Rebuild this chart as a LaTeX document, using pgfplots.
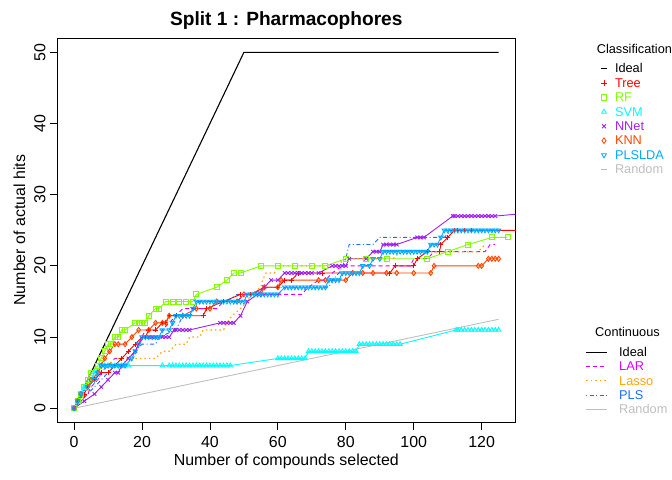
\documentclass[border=0pt]{standalone}
\usepackage{fontspec}
\setmainfont{Liberation Sans}
\usepackage{pgfplots}
\pgfplotsset{compat=1.18}

\definecolor{rf}{HTML}{7FFF00}
\definecolor{svm}{HTML}{00FFFF}
\definecolor{nnet}{HTML}{A020F0}
\definecolor{knn}{HTML}{FF4500}
\definecolor{plslda}{HTML}{00AAFF}
\definecolor{lar}{HTML}{DD00FF}
\definecolor{lasso}{HTML}{FFA500}
\definecolor{pls}{HTML}{1E6BFF}
\definecolor{rnd}{HTML}{BEBEBE}

% legend symbols
\newcommand{\clsimg}[3]{\addlegendimage{legend image code/.code={%
  \path[draw=none, fill=none] (0bp,1bp) rectangle (10bp,7bp);
  \draw[#1, line width=0.8bp, mark=#2, mark size=2.8bp, mark options={solid,#3}] plot coordinates {(5bp,4.2bp)};}}}
\newcommand{\conimg}[1]{\addlegendimage{legend image code/.code={%
  \draw[#1, line width=0.9bp] (0bp,4.2bp) -- (21bp,4.2bp);}}}

\tikzset{legfont/.style={font=\fontsize{12.8}{14}\selectfont}}

\pgfplotsset{
  base/.style={
    at={(57.1bp,57.5bp)}, anchor=south west,
    width=458.5bp, height=384.4bp, scale only axis,
    xmin=-5, xmax=130, ymin=-2, ymax=52,
  },
  cls/.style={line width=0.9bp, mark size=2.5bp, mark options={solid}, forget plot},
}

\begin{document}
\begin{tikzpicture}
\useasboundingbox (0,0) rectangle (672bp,480bp);
\begin{axis}[base,
  xtick={0,20,...,120}, ytick={0,10,...,50},
  tick pos=left, tick align=outside, major tick length=7bp,
  tick style={black, line width=0.8bp},
  axis line style={line width=0.8bp},
  /pgf/number format/assume math mode=true,
  ticklabel style={font=\fontsize{16}{19}\selectfont},
  xticklabel style={yshift=-3.5bp},
  yticklabel style={rotate=90, anchor=south, yshift=1bp},
  xlabel={Number of compounds selected},
  ylabel={Number of actual hits},
  every axis x label/.style={at={(axis description cs:0.5,-0.102)}, anchor=center, font=\fontsize{16}{19}\selectfont},
  every axis y label/.style={at={(axis description cs:-0.0822,0.5)}, rotate=90, anchor=center, font=\fontsize{16}{19}\selectfont},
  legend style={at={(1.1819,0.9342)}, anchor=north west, draw=none, fill=none,
    inner sep=0pt, outer sep=0pt, row sep=0pt, column sep=6bp,
    nodes={inner sep=0pt, text height=9.5bp, text depth=4.9bp},
    cells={anchor=base west}, legfont},
]
% Ideal and random
\addplot[black, line width=1.1bp, forget plot] coordinates {(0,0) (50,50) (125,50)};
\addplot[rnd, line width=0.9bp, forget plot] coordinates {(0,0) (125,12.5)};

% Tree
\addplot[red, cls, mark=+] coordinates {
(0,0) (1,1) (3,2) (4,3) (6,4) (8,5) (10,5) (12,6) (14,7) (16,8) (18,9) (20,10) (21,10)
(22,11) (24,11) (26,12) (27,12) (28,13) (30,13) (38,13) (39,14) (44,15) (49,16) (52,16)
(56,17) (60,17) (62,18) (64,18) (66,19) (73,19) (93,19) (94.5,20) (100,20) (101,21)
(104,22) (107.6,22) (108,23) (110,24) (112,25) (113,25) (115,25) (117,25) (131,25)};
% RF
\addplot[rf, cls, mark=square] coordinates {
(0,0) (1,1) (2,2) (3,3) (4,4) (5,5) (7,6) (8,7) (9,8) (10,9) (11,9) (12,10) (13,10)
(14,11) (15,11) (18,12) (19,12) (20,12) (21,12) (22,13) (24,14) (25,14) (27,15) (29,15)
(31,15) (33,15) (35,15) (36,16) (42,17) (45,18) (47,19) (49,19) (55,20) (60,20) (65,20)
(70,20) (74,20) (80,21) (86,21) (92,21) (104,21) (110,22) (116,23) (123,24) (127.6,24)};
% SVM
\addplot[svm, cls, mark=triangle] coordinates {
(0,0) (1,1) (2,2) (3,3) (5,4) (6,5) (8,6) (9,6) (10,6) (11,6) (12,6) (13,6) (14,6) (15,6)
(16,6) (26,6) (28,6) (29,6) (30,6) (31,6) (32,6) (33,6) (34,6) (35,6) (36,6) (37,6) (38,6)
(39,6) (40,6) (41,6) (42,6) (43,6) (44,6) (45,6) (46,6) (60,7) (61,7) (62,7) (63,7) (64,7)
(65,7) (66,7) (67,7) (68,7) (69,8) (70,8) (71,8) (72,8) (73,8) (74,8) (75,8) (76,8) (77,8)
(78,8) (79,8) (80,8) (81,8) (82,8) (83,8) (84,9) (85,9) (86,9) (87,9) (88,9) (89,9) (90,9)
(91,9) (92,9) (93,9) (94,9) (95,9) (96,9) (112.5,11) (113,11) (114,11) (115,11) (116,11)
(117,11) (118,11) (119,11) (120,11) (121,11) (122,11) (123,11) (124,11) (125,11)};
% NNet
\addplot[nnet, cls, mark=x] coordinates {
(0,0) (3,1) (6,2) (8,3) (10,4) (12,5) (13,5) (14,6) (16,7) (18,8) (19,9) (20.5,10) (22,10)
(23,10) (24,10) (26,10) (27,10) (28,10) (29.5,11) (30,11) (31,11) (32,11) (33,11) (34,11)
(43,12) (44,12) (45,12) (46,12) (47,12) (49,13) (51,15) (54,16) (56,17) (58,18) (60,18)
(62,19) (63,19) (64,19) (65,19) (66,19) (67,19) (68,19) (69,19) (70,19) (72,19) (76,20)
(77,20) (78,20) (79,20) (80,20) (81,21) (86,21) (88,22) (89,22) (90,22) (91,23) (92,23)
(93,23) (94,23) (95,23) (101,24) (102,24) (103,24) (111.5,27) (112,27) (113,27) (114,27)
(115,27) (116,27) (117,27) (118,27) (119,27) (120,27) (121,27) (122,27) (123,27) (124,27)
(131,27.3)};
% KNN
\addplot[knn, cls, mark=diamond] coordinates {
(0,0) (1,1) (2,2) (4,3) (5,4) (7,5) (8,6) (9,7) (10.5,8) (12,9) (13,9) (15,9) (17,10)
(19,11) (22,11) (24,12) (26,12) (27,12) (28,13) (32,13) (36,14) (40,14) (42,15) (48,15)
(50,16) (55,16) (56,17) (60,17) (61,18) (72,18) (74,18) (80,18) (82,19) (85,19) (88,19)
(92,19) (95,19) (100,19) (105,19) (106,20) (119,20) (120,20) (122,21) (123,21) (124,21)
(125,21)};
% PLSLDA
\addplot[plslda, cls, mark=triangle, mark options={solid, rotate=180}] coordinates {
(0,0) (1,1) (2,2) (4,3) (6,4) (7,5) (8,6) (9,6) (10,6) (11,6) (12,6) (13,6) (14,6) (15,6)
(17,7) (18,8) (19,9) (20,10) (21,10) (22,10) (23,10) (24,10) (25,10) (26,11) (28,11)
(29,12) (30,13) (31,13) (32,13) (33,13) (34,13) (35,14) (36,15) (37,15) (38,15) (39,15)
(40,15) (41,15) (42,15) (43,15) (44,15) (45,15) (46,15) (47,15) (48,15) (49,15) (50,15)
(51,16) (52,16) (53,16) (54,16) (55,16) (56,16) (57,16) (58,16) (59,16) (60,16) (62,17)
(63,17) (64,17) (65,17) (66,17) (67,17) (68,17) (69,17) (70,17) (71,17) (72,17) (73,17)
(74,17) (75,18) (76,18) (77,18) (78,18) (79,19) (80,19) (81,19) (82,19) (83,19) (84,19)
(85,20) (87,20) (88,21) (90,21) (91,22) (92,22) (93,22) (94,22) (95,22) (96,22) (97,22)
(98,22) (99,22) (100,22) (101,22) (102,22) (103,22) (104,22) (105,23) (106,23) (107,23)
(108,24) (109,25) (110,25) (111,25) (112,25) (113,25) (114,25) (115,25) (116,25) (117,25)
(118,25) (119,25) (120,25) (121,25) (122,25) (123,25) (124,25) (125,25)};

% continuous methods
\addplot[lar, line width=0.9bp, dash pattern=on 4bp off 3bp, forget plot] coordinates {
(0,0) (2,1) (4,2) (5,3) (7,4) (8,5) (10,6) (12,7) (16,7) (18,8) (19,9) (20,10) (21,11)
(26,11) (28,12) (30,13) (32,14) (42,14) (44,15) (48,15) (50,16) (67,16) (69,17) (72,18)
(74,18) (76,19) (79,20) (99,20) (100,21) (104,21) (106,22) (121,22) (122.5,23) (124,23)};
\addplot[lasso, line width=1.2bp, dash pattern=on 1.5bp off 3bp, forget plot] coordinates {
(0,0) (2,1) (3,2) (5,3) (7,4) (8,5) (10,6) (12,7) (24,7) (26,8) (28,8) (30,9) (33,9)
(34,10) (37,10) (38,11) (44,11) (45,12) (46.5,13) (49,14) (51,15) (52,16) (55,17)
(55.5,18) (56.5,19) (59,19) (60,20) (77,20) (80,21) (94,21) (96,22) (117,22) (119,22)
(121,23)};
\addplot[pls, line width=0.9bp, dash pattern=on 1bp off 2.5bp on 4bp off 2.5bp, forget plot] coordinates {
(0,0) (2,1) (4,2) (6,3) (8,4) (10,5) (12,6) (14,6) (16,7) (18,8) (20,9) (24,9) (25,10)
(30,11) (31,12) (32,13) (34,13) (35,14) (37,15) (45,15) (48,16) (52,16) (57,17) (75,17)
(76,18) (78,19) (79,20) (80,21) (81,23) (88,23) (90,24) (109,24) (111,25) (124,25)};

% classification legend
\clsimg{black}{-}{}
\addlegendentry{Ideal}
\clsimg{red}{+}{}
\addlegendentry{\textcolor{red}{Tree}}
\clsimg{rf}{square}{}
\addlegendentry{\textcolor{rf}{RF}}
\clsimg{svm}{triangle}{}
\addlegendentry{\textcolor{svm}{SVM}}
\clsimg{nnet}{x}{}
\addlegendentry{\textcolor{nnet}{NNet}}
\clsimg{knn}{diamond}{}
\addlegendentry{\textcolor{knn}{KNN}}
\clsimg{plslda}{triangle}{rotate=180}
\addlegendentry{\textcolor{plslda}{PLSLDA}}
\clsimg{rnd}{-}{}
\addlegendentry{\textcolor{rnd}{Random}}
\end{axis}

\begin{axis}[base, hide axis,
  legend style={at={(1.1535,0.1969)}, anchor=north west, draw=none, fill=none,
    inner sep=0pt, outer sep=0pt, row sep=0pt, column sep=11.3bp,
    nodes={inner sep=0pt, text height=9.5bp, text depth=4.9bp},
    cells={anchor=base west}, legfont},
]
\conimg{black}
\addlegendentry{Ideal}
\conimg{lar, dash pattern=on 4bp off 3bp}
\addlegendentry{\textcolor{lar}{LAR}}
\conimg{lasso, line width=1.2bp, dash pattern=on 1.5bp off 3bp}
\addlegendentry{\textcolor{lasso}{Lasso}}
\conimg{pls, dash pattern=on 1bp off 2.5bp on 4bp off 2.5bp}
\addlegendentry{\textcolor{pls}{PLS}}
\conimg{rnd}
\addlegendentry{\textcolor{rnd}{Random}}
\end{axis}

\node[font=\bfseries\fontsize{19.2}{23}\selectfont] at (286.3bp,459.3bp) {Split 1 : Pharmacophores};
\node[anchor=west, legfont] at (593.3bp,431bp) {Classification};
\node[anchor=west, legfont] at (591.7bp,148.3bp) {Continuous};
\end{tikzpicture}
\end{document}
